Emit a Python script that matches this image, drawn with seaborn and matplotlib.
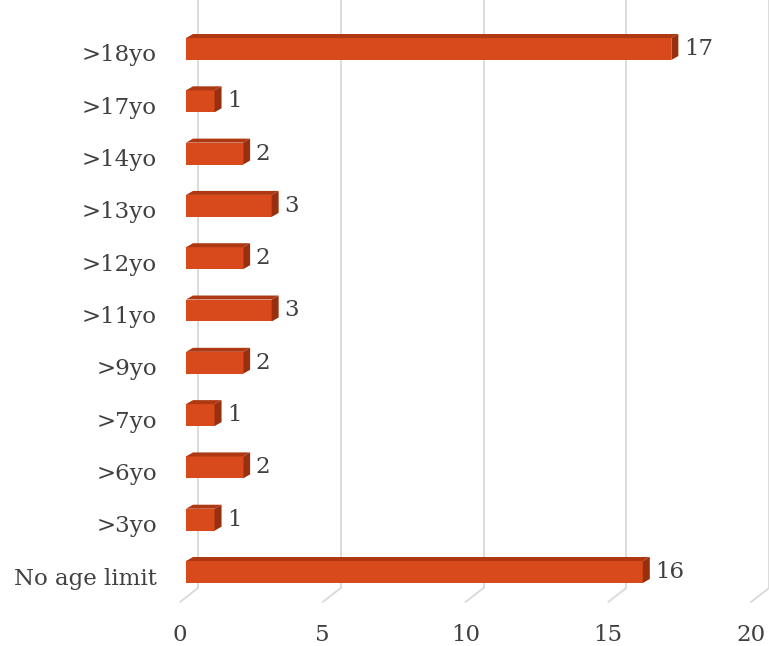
import numpy as np
import pandas as pd
import seaborn as sns
import matplotlib.pyplot as plt
from matplotlib.patches import Polygon
from matplotlib.transforms import ScaledTranslation

# data (top to bottom)
categorias = ['>18yo', '>17yo', '>14yo', '>13yo', '>12yo', '>11yo',
              '>9yo', '>7yo', '>6yo', '>3yo', 'No age limit']
valores = [17, 1, 2, 3, 2, 3, 2, 1, 2, 1, 16]
ticks_x = [0, 5, 10, 15, 20]

df = pd.DataFrame({'categoria': categorias, 'valor': valores})

sns.set_theme(style='white')
plt.rcParams['font.family'] = ['DejaVu Serif', 'DejaVu Sans']

COL_FRENTE = '#D8491B'
COL_ARRIBA = '#AE3812'
COL_LADO = '#983010'
COL_TEXTO = '#404040'
COL_GRID = '#D9D9D9'
TAM = 16.5

fig = plt.figure(figsize=(7.69, 6.46), dpi=100)
W, H = 769, 646
ax = fig.add_axes([186 / W, 1 - 588 / H, 571 / W, 588 / H])

ancho = 0.42
sns.barplot(data=df, x='valor', y='categoria', order=categorias,
            color=COL_FRENTE, width=ancho, saturation=1, orient='h',
            edgecolor='none', ax=ax, zorder=3)

ax.set_xlim(0, 20)
ax.set_ylim(10 + 16 / 52.3, -49 / 52.3)

# pixels por unidad
px_x = 571 / 20.0
px_y = 588 / (ax.get_ylim()[0] - ax.get_ylim()[1])
dx = 7 / px_x
dy = 4 / px_y

# caras de arriba y lateral (efecto 3D)
for i, v in enumerate(valores):
    arriba = i - ancho / 2
    abajo = i + ancho / 2
    cara_sup = Polygon([(0, arriba), (v, arriba), (v + dx, arriba - dy), (dx, arriba - dy)],
                       closed=True, facecolor=COL_ARRIBA, edgecolor='none', zorder=3)
    cara_lat = Polygon([(v, arriba), (v + dx, arriba - dy), (v + dx, abajo - dy), (v, abajo)],
                       closed=True, facecolor=COL_LADO, edgecolor='none', zorder=3)
    ax.add_patch(cara_sup)
    ax.add_patch(cara_lat)
    ax.annotate(str(v), xy=(v + dx, i), xytext=(4, 0), textcoords='offset points',
                va='center', ha='left', fontsize=TAM, color=COL_TEXTO)

# rejilla con perspectiva
tr = ax.get_xaxis_transform()
for t in ticks_x:
    off = tr + ScaledTranslation(12 / 100, 0, fig.dpi_scale_trans)
    ax.plot([t, t], [0, 1], transform=off, color=COL_GRID, lw=1.3, zorder=1, clip_on=False)
    xd = tr.transform((t, 0))
    x0, y0 = xd[0] + 12, xd[1]
    x1, y1 = xd[0] - 6, xd[1] - 14
    fig.add_artist(plt.Line2D([x0 / W, x1 / W], [y0 / H, y1 / H], color=COL_GRID, lw=1.3))

ax.set_xticks(ticks_x)
ax.set_xticklabels([str(t) for t in ticks_x], fontsize=TAM, color=COL_TEXTO)
ax.tick_params(axis='x', length=0, pad=26)
ax.tick_params(axis='y', length=0, pad=21)
ax.set_yticks(range(len(categorias)))
ax.set_yticklabels(categorias, fontsize=TAM, color=COL_TEXTO)
for lab in ax.get_xticklabels():
    lab.set_transform(lab.get_transform() + ScaledTranslation(-6 / 100, 0, fig.dpi_scale_trans))
for lab in ax.get_yticklabels():
    lab.set_transform(lab.get_transform() + ScaledTranslation(0, -4 / 100, fig.dpi_scale_trans))

ax.set_xlabel('')
ax.set_ylabel('')
for s in ax.spines.values():
    s.set_visible(False)
ax.grid(False)

fig.savefig('out.png', dpi=100)
